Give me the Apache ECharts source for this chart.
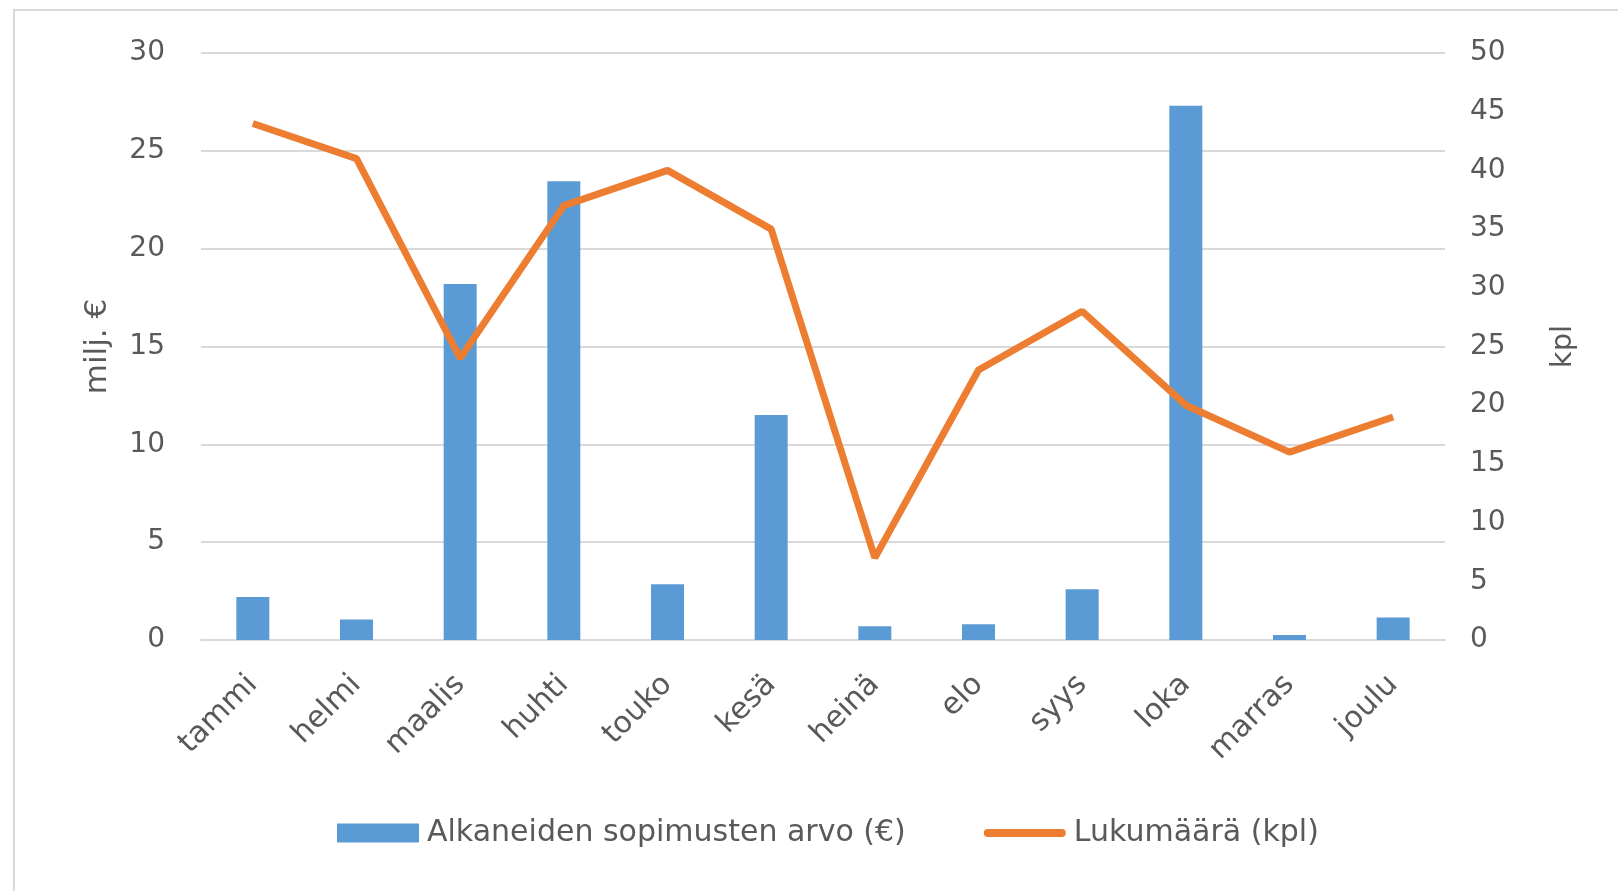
<!DOCTYPE html>
<html>
<head>
<meta charset="utf-8">
<script src="https://cdn.jsdelivr.net/npm/echarts@6/dist/echarts.min.js"></script>
<style>
  html, body { margin: 0; padding: 0; background: #fff; }
  #frame { position: absolute; left: 13px; top: 9px; width: 1640px; height: 920px; border: 2px solid #d9d9d9; box-sizing: border-box; }
  #chart { position: absolute; left: 0; top: 0; width: 1618px; height: 891px; }
</style>
</head>
<body>
<div id="frame"></div>
<div id="chart"></div>
<script>
const months = ["tammi", "helmi", "maalis", "huhti", "touko", "kesä", "heinä", "elo", "syys", "loka", "marras", "joulu"];
const arvo = [2.2, 1.05, 18.2, 23.45, 2.85, 11.5, 0.7, 0.8, 2.6, 27.3, 0.25, 1.15];
const lukumaara = [44, 41, 24, 37, 40, 35, 7, 23, 28, 20, 16, 19];

const textColor = "#595959";
const font = "DejaVu Sans";

const myChart = echarts.init(document.getElementById("chart"));
const option = {
  animation: false,
  textStyle: { fontFamily: font },
  grid: { left: 201, right: 173, top: 53, bottom: 251 },
  legend: {
    bottom: 38,
    left: 332,
    itemGap: 78,
    itemWidth: 82,
    itemHeight: 19,
    textStyle: { fontSize: 30, color: textColor, fontFamily: font, padding: [0, 0, 0, 3] },
    data: [
      { name: "Alkaneiden sopimusten arvo (€)", icon: "rect" },
      { name: "Lukumäärä (kpl)", icon: "path://M4,0 H78 A4,4 0 0 1 78,8 H4 A4,4 0 0 1 4,0 Z" }
    ]
  },
  xAxis: {
    type: "category",
    data: months,
    axisLine: { lineStyle: { color: "#d9d9d9", width: 2 } },
    axisTick: { show: false },
    axisLabel: { rotate: 45, fontSize: 30, color: textColor, margin: 40, interval: 0 }
  },
  yAxis: [
    {
      type: "value",
      min: 0, max: 30, interval: 5,
      name: "milj. €",
      nameLocation: "middle",
      nameGap: 88,
      nameRotate: 90,
      nameTextStyle: { fontSize: 31, color: textColor },
      axisLabel: { fontSize: 28, color: textColor, margin: 36 },
      splitLine: { lineStyle: { color: "#d9d9d9", width: 2 } }
    },
    {
      type: "value",
      min: 0, max: 50, interval: 5,
      name: "kpl",
      nameLocation: "middle",
      nameGap: 104,
      nameRotate: 90,
      nameTextStyle: { fontSize: 29, color: textColor },
      axisLabel: { fontSize: 28, color: textColor, margin: 25 },
      splitLine: { show: false }
    }
  ],
  series: [
    {
      name: "Alkaneiden sopimusten arvo (€)",
      type: "bar",
      data: arvo,
      barWidth: 33,
      itemStyle: { color: "#5b9bd5" }
    },
    {
      name: "Lukumäärä (kpl)",
      type: "line",
      yAxisIndex: 1,
      data: lukumaara,
      symbol: "none",
      lineStyle: { color: "#ed7d31", width: 7 },
      itemStyle: { color: "#ed7d31" }
    }
  ]
};
myChart.setOption(option);
window.addEventListener("resize", function () {
  myChart.resize();
});
</script>
</body>
</html>
